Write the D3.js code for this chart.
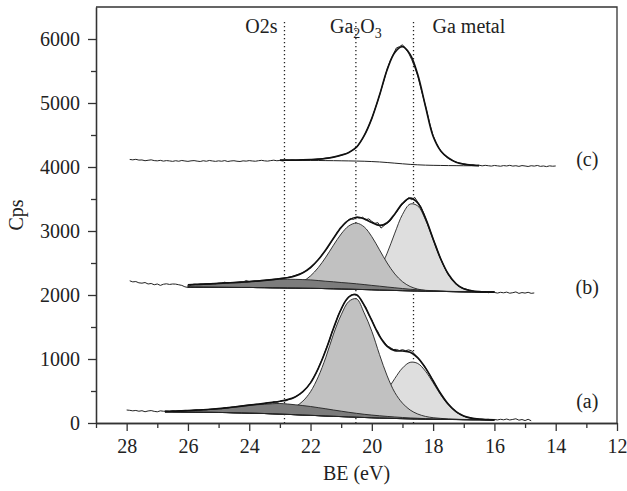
<!DOCTYPE html>
<html>
<head>
<meta charset="utf-8">
<script src="https://cdn.jsdelivr.net/npm/d3@7"></script>
<style>
    body { margin: 0; background: #fff; }
    #chart { width: 627px; height: 491px; }
    .axis path, .axis line { stroke: #333; stroke-width: 1.3px; }
    .axis text { font-family: "Liberation Serif", serif; font-size: 20px; fill: #222; }
    .lbl { font-family: "Liberation Serif", serif; font-size: 20px; fill: #222; }
</style>
</head>
<body>
<div id="chart"></div>
<script>
// axis ticks
const xTicks = [28, 26, 24, 22, 20, 18, 16, 14, 12];
const xMinorTicks = [29, 27, 25, 23, 21, 19, 17, 15, 13];
const yTicks = [0, 1000, 2000, 3000, 4000, 5000, 6000];
const yMinorTicks = [500, 1500, 2500, 3500, 4500, 5500];

// reference binding energies (eV)
const refNames = ["O2s", "Ga2O3", "Ga metal"];
const refBE = [22.85, 20.52, 18.64];

// raw spectra, step 0.1 eV going down from the start value
const rawStep = 0.1;
const rawStartA = 28.0, rawStartB = 27.9, rawStartC = 27.9;
const rawA = [203,198,190,196,184,192,176,188,194,182,
    175,190,184,186,181,188,184,190,186,192,
    196,194,199,204,201,209,206,213,217,221,
    227,223,240,236,246,251,256,262,270,276,
    282,286,292,297,301,307,318,313,331,322,
    338,352,345,373,382,410,432,466,515,565,
    632,712,795,912,1015,1150,1268,1420,1540,1680,
    1775,1880,1935,1995,2010,1998,1962,1875,1808,1690,
    1612,1490,1425,1318,1268,1205,1180,1148,1150,1132,
    1146,1130,1142,1128,1070,1025,955,905,820,748,
    655,580,492,425,348,295,238,202,158,135,
    108,92,84,70,68,58,60,54,57,49,
    55,48,58,50,62,47,56,66,44,54,
    38,58,35];
const rawB = [2222,2205,2210,2190,2185,2195,2172,2180,2160,
    2172,2150,2168,2175,2165,2172,2170,2160,2150,2128,
    2118,2160,2168,2162,2172,2168,2175,2172,2180,2176,
    2184,2185,2200,2186,2194,2196,2199,2205,2203,2226,
    2210,2215,2220,2218,2228,2230,2236,2240,2246,2252,
    2258,2262,2270,2280,2290,2305,2322,2338,2362,2392,
    2425,2470,2525,2580,2645,2700,2770,2850,2925,2995,
    3060,3120,3160,3195,3180,3210,3200,3215,3175,3190,
    3150,3120,3130,3045,3085,3120,3160,3230,3290,3360,
    3420,3460,3520,3490,3525,3450,3380,3270,3140,3010,
    2880,2750,2620,2510,2405,2320,2250,2195,2150,2115,
    2100,2090,2068,2060,2048,2055,2044,2050,2036,2048,
    2040,2030,2042,2034,2045,2028,2036,2048,2025,2038,
    2030,2042,2026,2032];
const rawC = [4118,4112,4120,4108,4110,4098,4105,4112,4100,
    4096,4104,4092,4100,4095,4088,4098,4090,4102,4094,
    4088,4096,4100,4092,4086,4098,4090,4102,4094,4088,
    4096,4090,4100,4086,4094,4098,4090,4086,4096,4092,
    4100,4094,4090,4098,4104,4096,4092,4100,4106,4098,
    4102,4094,4108,4104,4110,4106,4104,4112,4110,4114,
    4116,4118,4122,4124,4130,4138,4142,4150,4160,4170,
    4185,4200,4215,4240,4272,4310,4370,4445,4535,4640,
    4760,4900,5040,5200,5360,5530,5660,5760,5860,5880,
    5910,5850,5780,5680,5560,5420,5230,5050,4860,4660,
    4490,4380,4290,4220,4170,4135,4110,4085,4070,4060,
    4048,4040,4032,4035,4024,4028,4018,4026,4020,4014,
    4024,4018,4012,4022,4016,4026,4014,4020,4010,4022,
    4016,4008,4020,4014,4024,4010,4016,4006,4018,4012,
    4016];

// fitted curves, step 0.25 eV going down from the start value
const fitStep = 0.25;
const fitStartA = 26.75, fitStartB = 26.0, fitStartC = 23.0;

const bgA = [175,174,173,172,170,168,167,165,163,160,158,155,152,148,144,140,135,130,125,120,
    115,110,105,100,95,91,86,82,78,75,71,68,65,63,60,58,57,55,54,52,51,51,50,50];
const o2sA = [181,184,188,194,200,206,214,223,235,248,262,275,285,293,301,305,297,285,272,258,
    240,222,203,185,167,151,136,124,113,103,94,86,79,74,68,64,61,58,56,53,52,51,50,50];
const ga2o3A = [176,175,174,173,171,169,168,167,165,162,161,160,160,161,165,180,205,253,342,489,
    720,1027,1390,1690,1900,1940,1720,1433,1070,737,477,310,203,140,103,83,72,63,59,55,53,52,51,50];
const gaMetalA = [175,174,173,172,170,168,167,165,163,160,158,155,152,148,144,140,135,130,125,120,
    115,110,105,103,105,119,153,224,343,508,695,859,948,930,810,629,438,281,171,106,73,59,52,50];
const envA = [182,185,189,195,201,207,215,225,237,250,265,280,293,306,322,340,365,408,489,627,
    850,1140,1480,1780,1970,2005,1840,1600,1360,1198,1130,1125,1105,1018,861,660,457,292,178,110,76,60,53,50];

const bgB = [2125,2124,2123,2122,2121,2120,2119,2118,2118,2116,2115,2113,2112,2110,2109,2107,2105,2103,2100,2098,
    2095,2092,2088,2085,2082,2078,2075,2071,2068,2065,2063,2060,2058,2056,2054,2052,2050,2049,2047,2046,2045];
const o2sB = [2160,2165,2170,2175,2181,2188,2194,2201,2208,2218,2228,2237,2245,2246,2245,2241,2236,2226,2215,2206,
    2195,2186,2175,2163,2150,2138,2125,2113,2101,2090,2081,2073,2067,2062,2058,2054,2051,2050,2047,2046,2045];
const ga2o3B = [2125,2124,2123,2122,2121,2120,2119,2118,2118,2116,2116,2117,2122,2134,2162,2213,2299,2427,2592,2779,
    2954,3080,3123,3064,2911,2706,2500,2329,2208,2133,2092,2071,2062,2057,2054,2052,2050,2049,2047,2046,2045];
const gaMetalB = [2125,2124,2123,2122,2121,2120,2119,2118,2118,2116,2115,2113,2112,2110,2109,2107,2105,2103,2100,2098,
    2097,2099,2110,2147,2235,2399,2654,2967,3258,3421,3391,3176,2863,2555,2319,2173,2097,2065,2052,2047,2045];
const envB = [2160,2165,2170,2175,2181,2188,2194,2201,2208,2218,2229,2241,2255,2270,2298,2347,2430,2550,2707,2887,
    3056,3170,3215,3190,3132,3087,3129,3267,3431,3514,3438,3200,2876,2562,2323,2175,2098,2066,2052,2047,2045];

const bgC = [4105,4105,4105,4104,4103,4102,4100,4099,4097,4095,4093,4090,4085,4079,4070,4060,4050,4041,4034,4029,
    4026,4024,4022,4021,4020,4020,4020];
const envC = [4106,4106,4107,4110,4115,4122,4134,4155,4185,4228,4310,4490,4760,5120,5520,5790,5880,5760,5440,4950,
    4480,4250,4140,4075,4045,4030,4022];

// spectrum labels and the Cps level they sit at
const specNames = ["(a)", "(b)", "(c)"];
const specLabelCps = [330, 2110, 4110];


class XpsPlot {
    constructor(parentElement) {
        this.parentElement = parentElement;
        this.fill = {o2s: "#7c7c7c", ga2o3: "#c1c1c1", gaMetal: "#dedede"};
        this.initVis();
    }

    initVis() {
        let vis = this;

        vis.margin = {top: 7, right: 10, bottom: 68, left: 96};
        vis.width = 627 - vis.margin.left - vis.margin.right;
        vis.height = 491 - vis.margin.top - vis.margin.bottom;

        vis.svg = d3.select("#" + vis.parentElement).append("svg")
            .attr("width", 627)
            .attr("height", 491)
            .append("g")
            .attr("transform", "translate(" + vis.margin.left + "," + vis.margin.top + ")");

        // scales (BE axis runs high to low)
        vis.x = d3.scaleLinear().domain([29, 12]).range([0, vis.width]);
        vis.y = d3.scaleLinear().domain([0, 6500]).range([vis.height, 0]);

        vis.line = d3.line()
            .curve(d3.curveCatmullRom)
            .x(d => vis.x(d.be))
            .y(d => vis.y(d.v));
        vis.rawLine = d3.line()
            .x(d => vis.x(d.be))
            .y(d => vis.y(d.v));
        vis.area = d3.area()
            .curve(d3.curveCatmullRom)
            .x(d => vis.x(d.be))
            .y0(d => vis.y(d.b))
            .y1(d => vis.y(d.v));

        vis.wrangleData();
    }

    wrangleData() {
        let vis = this;

        let toPts = (start, step, arr) => arr.map((v, i) => ({be: start - i * step, v: v}));
        let toBand = (start, step, top, base) => top.map((v, i) => ({be: start - i * step, v: v, b: base[i]}));

        vis.spectra = [
            {raw: toPts(rawStartA, rawStep, rawA), bg: toPts(fitStartA, fitStep, bgA), env: toPts(fitStartA, fitStep, envA),
             bands: [["gaMetal", toBand(fitStartA, fitStep, gaMetalA, bgA)],
                     ["ga2o3", toBand(fitStartA, fitStep, ga2o3A, bgA)],
                     ["o2s", toBand(fitStartA, fitStep, o2sA, bgA)]]},
            {raw: toPts(rawStartB, rawStep, rawB), bg: toPts(fitStartB, fitStep, bgB), env: toPts(fitStartB, fitStep, envB),
             bands: [["gaMetal", toBand(fitStartB, fitStep, gaMetalB, bgB)],
                     ["ga2o3", toBand(fitStartB, fitStep, ga2o3B, bgB)],
                     ["o2s", toBand(fitStartB, fitStep, o2sB, bgB)]]},
            {raw: toPts(rawStartC, rawStep, rawC), bg: toPts(fitStartC, fitStep, bgC), env: toPts(fitStartC, fitStep, envC),
             bands: []}
        ];

        vis.updateVis();
    }

    updateVis() {
        let vis = this;

        // dotted reference lines
        refBE.forEach(be => {
            vis.svg.append("line")
                .attr("x1", vis.x(be)).attr("x2", vis.x(be))
                .attr("y1", 15).attr("y2", vis.height)
                .attr("stroke", "#222")
                .attr("stroke-width", 1.3)
                .attr("stroke-dasharray", "1.3,2.7");
        });

        // spectra
        vis.spectra.forEach(s => {
            let g = vis.svg.append("g");
            s.bands.forEach(([key, pts]) => {
                g.append("path")
                    .datum(pts)
                    .attr("d", vis.area)
                    .attr("fill", vis.fill[key])
                    .attr("stroke", "#222")
                    .attr("stroke-width", 0.9);
            });
            g.append("path").datum(s.bg).attr("d", vis.line)
                .attr("fill", "none").attr("stroke", "#222").attr("stroke-width", 1);
            g.append("path").datum(s.raw).attr("d", vis.rawLine)
                .attr("fill", "none").attr("stroke", "#222").attr("stroke-width", 1);
            g.append("path").datum(s.env).attr("d", vis.line)
                .attr("fill", "none").attr("stroke", "#111").attr("stroke-width", 1.7);
        });

        // axes
        vis.svg.append("g")
            .attr("class", "axis")
            .attr("transform", "translate(0," + vis.height + ")")
            .call(d3.axisBottom(vis.x).tickValues(xTicks).tickSize(8).tickSizeOuter(0).tickPadding(8));
        vis.svg.append("g")
            .attr("class", "axis")
            .attr("transform", "translate(0," + vis.height + ")")
            .call(d3.axisBottom(vis.x).tickValues(xMinorTicks).tickSize(5).tickSizeOuter(0).tickFormat(""));
        vis.svg.append("g")
            .attr("class", "axis")
            .call(d3.axisLeft(vis.y).tickValues(yTicks).tickFormat(d3.format("d"))
                .tickSize(8).tickSizeOuter(0).tickPadding(8));
        vis.svg.append("g")
            .attr("class", "axis")
            .call(d3.axisLeft(vis.y).tickValues(yMinorTicks).tickSize(5).tickSizeOuter(0).tickFormat(""));

        // frame top and right
        vis.svg.append("path")
            .attr("d", "M0,0H" + vis.width + "V" + vis.height)
            .attr("fill", "none")
            .attr("stroke", "#333")
            .attr("stroke-width", 1.3);

        // axis titles
        vis.svg.append("text")
            .attr("class", "lbl")
            .attr("text-anchor", "middle")
            .attr("x", vis.width / 2)
            .attr("y", vis.height + 57)
            .text("BE (eV)");
        vis.svg.append("text")
            .attr("class", "lbl")
            .attr("text-anchor", "middle")
            .attr("transform", `translate(${-73}, ${vis.height / 2}) rotate(-90)`)
            .text("Cps");

        // reference labels
        vis.svg.append("text").attr("class", "lbl")
            .attr("text-anchor", "end")
            .attr("x", vis.x(refBE[0]) - 7).attr("y", 26)
            .text(refNames[0]);
        let ga = vis.svg.append("text").attr("class", "lbl")
            .attr("text-anchor", "middle")
            .attr("x", vis.x(refBE[1])).attr("y", 26);
        ga.append("tspan").text("Ga");
        ga.append("tspan").attr("font-size", "14px").attr("dy", 5).text("2");
        ga.append("tspan").attr("dy", -5).text("O");
        ga.append("tspan").attr("font-size", "14px").attr("dy", 5).text("3");
        vis.svg.append("text").attr("class", "lbl")
            .attr("text-anchor", "start")
            .attr("x", vis.x(refBE[2]) + 19).attr("y", 26)
            .text(refNames[2]);

        // spectrum labels
        specNames.forEach((name, i) => {
            vis.svg.append("text").attr("class", "lbl")
                .attr("text-anchor", "middle")
                .attr("x", vis.x(12.97))
                .attr("y", vis.y(specLabelCps[i]) + 6)
                .text(name);
        });
    }
}

new XpsPlot("chart");
</script>
</body>
</html>
